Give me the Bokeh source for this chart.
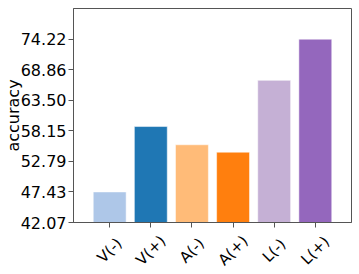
import math
from bokeh.plotting import figure
from bokeh.layouts import column
from bokeh.models import FactorRange, Range1d, FixedTicker, ColumnDataSource
from bokeh.core.properties import value
from bokeh.embed import file_html
from bokeh.resources import INLINE

categories = ["V(-)", "V(+)", "A(-)", "A(+)", "L(-)", "L(+)"]
accuracy = [47.43, 58.9, 55.7, 54.4, 67.0, 74.22]
colors = ["#aec7e8", "#1f77b4", "#ffbb78", "#ff7f0e", "#c5b0d5", "#9467bd"]
y_ticks = [42.07, 47.43, 52.79, 58.15, 63.50, 68.86, 74.22]
y_tick_labels = ["42.07", "47.43", "52.79", "58.15", "63.50", "68.86", "74.22"]
y_start = 42.07
y_end = 79.6

AXIS_COLOR = "#555555"
LAB_H = 43          # height of the strip that holds the rotated x labels
LABEL_DROP = 19     # label centre distance below the top of that strip
TICK_LEN = 5

src = ColumnDataSource(dict(cat=categories, acc=accuracy, color=colors))

x_range = FactorRange(factors=categories, range_padding=0.38, range_padding_units="absolute")

p = figure(width=359, height=274 - LAB_H, output_backend="svg", toolbar_location=None,
           x_range=x_range, y_range=Range1d(y_start, y_end),
           min_border_left=73, min_border_right=8, min_border_top=8, min_border_bottom=9)

p.vbar(x="cat", top="acc", bottom=y_start, width=0.8, fill_color="color",
       line_color="white", line_alpha=0.5, line_width=1, source=src)

p.xgrid.visible = False
p.ygrid.visible = False
p.outline_line_color = AXIS_COLOR
p.outline_line_width = 1

p.yaxis.ticker = FixedTicker(ticks=y_ticks)
p.yaxis.major_label_overrides = {t: l for t, l in zip(y_ticks, y_tick_labels)}
p.yaxis.axis_label = "accuracy"
p.yaxis.axis_label_text_font = "DejaVu Sans"
p.yaxis.axis_label_text_font_style = "normal"
p.yaxis.axis_label_text_font_size = "16px"
p.yaxis.axis_label_text_color = "black"
p.yaxis.axis_label_standoff = -5
p.yaxis.minor_tick_line_color = None
p.yaxis.major_label_text_font = "DejaVu Sans"
p.yaxis.major_label_text_color = "black"
p.yaxis.major_label_text_font_size = "16px"
p.yaxis.major_label_standoff = 2

for ax in (p.xaxis, p.yaxis):
    ax.axis_line_color = AXIS_COLOR
    ax.major_tick_line_color = AXIS_COLOR
    ax.major_tick_out = TICK_LEN
    ax.major_tick_in = 0

# x axis keeps its tick marks; its labels are drawn rotated and centred below
p.xaxis.major_label_text_font_size = "0px"
p.xaxis.major_label_standoff = 0

lab = figure(width=359, height=LAB_H, output_backend="svg", toolbar_location=None,
             x_range=x_range, y_range=Range1d(0, LAB_H),
             min_border_left=73, min_border_right=8, min_border_top=0, min_border_bottom=0)
lab.outline_line_color = None
lab.axis.visible = False
lab.grid.visible = False
lab_src = ColumnDataSource(dict(cat=categories))
lab.text(x="cat", y=LAB_H - LABEL_DROP, text="cat", angle=math.pi / 4,
         text_align="center", text_baseline="middle",
         text_font=value("DejaVu Sans"), text_font_size=value("15px"),
         text_color="black", source=lab_src)

layout = column(p, lab, spacing=0)

open("out.html", "w").write(file_html(layout, INLINE))
